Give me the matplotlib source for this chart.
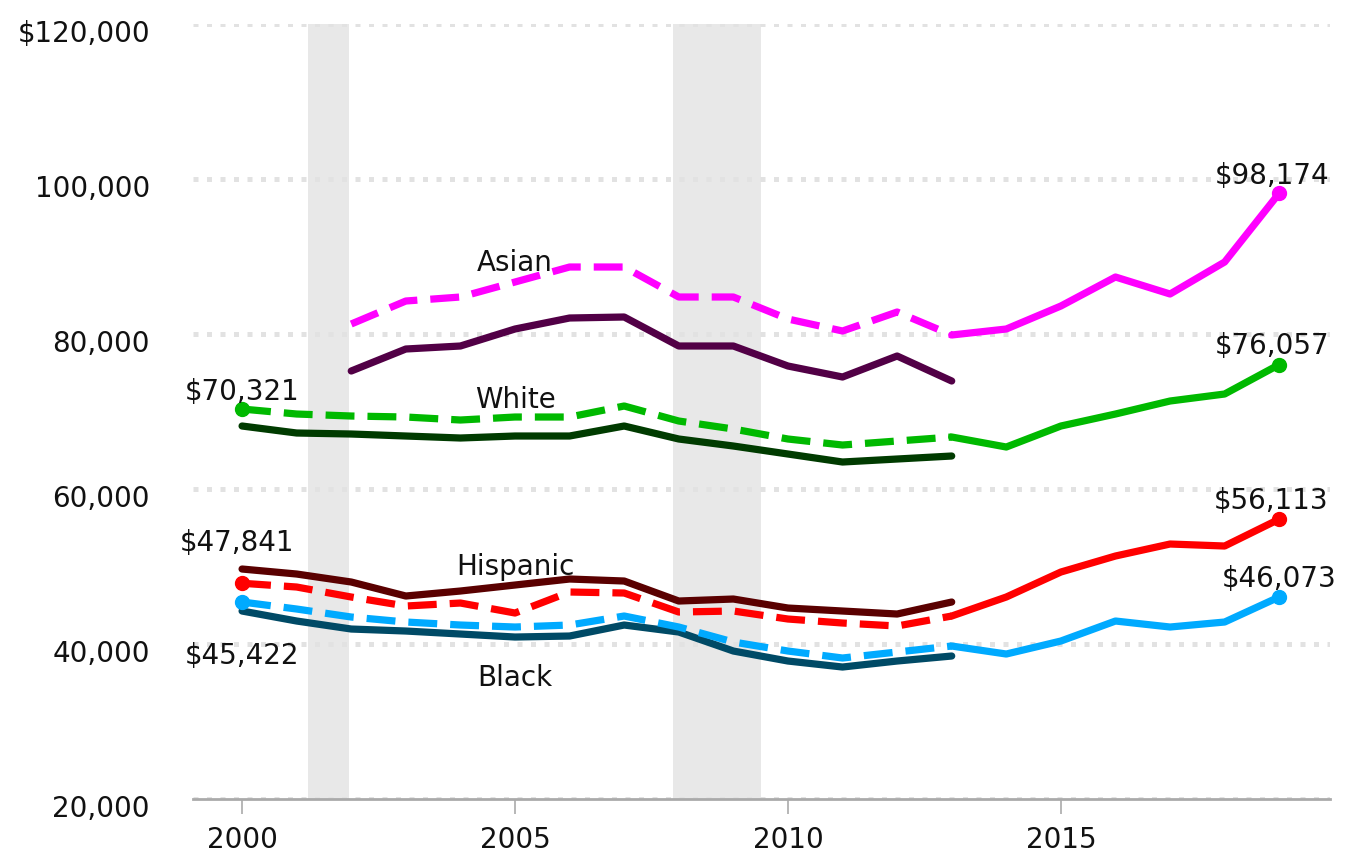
import matplotlib
matplotlib.use("Agg")
import matplotlib.pyplot as plt
from matplotlib.ticker import FuncFormatter
from matplotlib.transforms import ScaledTranslation

# old-method estimates (2000/2002 - 2013)
years_old = list(range(2000, 2014))
years_asian_old = list(range(2002, 2014))
# new-method estimates (2013 - 2019)
years_new = list(range(2013, 2020))

asian_dash = [81290, 84258, 84774, 86709, 88645, 88645, 84774, 84774, 81935, 80387, 82838, 79871]
asian_old = [75226, 78065, 78452, 80645, 82065, 82194, 78452, 78452, 75871, 74452, 77161, 73936]
asian_new = [79871, 80645, 83613, 87355, 85161, 89290, 98174]

white_dash = [70321, 69677, 69419, 69290, 68903, 69290, 69290, 70710, 68774, 67742, 66452, 65677, 66194, 66710]
white_old = [68129, 67226, 67097, 66839, 66581, 66839, 66839, 68129, 66452, 65548, 64516, 63484, 63871, 64258]
white_new = [66710, 65419, 68129, 69677, 71355, 72258, 76057]

hisp_dash = [47841, 47355, 46065, 44903, 45290, 44000, 46710, 46581, 44129, 44258, 43226, 42710, 42323, 43613]
hisp_old = [49677, 49032, 48000, 46194, 46839, 47613, 48387, 48129, 45548, 45806, 44645, 44258, 43871, 45419]
hisp_new = [43613, 46065, 49290, 51355, 52903, 52645, 56113]

black_dash = [45422, 44516, 43484, 42839, 42452, 42194, 42452, 43613, 42194, 40258, 39097, 38194, 38968, 39742]
black_old = [44258, 42968, 41935, 41677, 41290, 40903, 41032, 42452, 41548, 39097, 37806, 37032, 37806, 38452]
black_new = [39742, 38710, 40387, 42968, 42194, 42839, 46073]

recessions = [(2001.2, 2001.95), (2007.9, 2009.5)]

plt.rcParams["font.family"] = ["DejaVu Sans"]

fig = plt.figure(figsize=(13.53, 8.53), dpi=100)
ax = fig.add_axes([0.1426, 0.0621, 0.8404, 0.9086])

for start, end in recessions:
    ax.axvspan(start, end, color="#e8e8e8", lw=0, zorder=0)

for v in range(20000, 120001, 20000):
    ax.axhline(v, color="#e2e2e2", lw=3.6, ls=(0, (1, 1.7)), zorder=1)

lw = 5.2
dash = (0, (4, 1.8))
series = [
    (years_asian_old, asian_dash, asian_old, asian_new, "#ff00ff", "#520046"),
    (years_old, white_dash, white_old, white_new, "#00b900", "#003b00"),
    (years_old, hisp_dash, hisp_old, hisp_new, "#ff0000", "#5a0000"),
    (years_old, black_dash, black_old, black_new, "#00aaff", "#004a66"),
]
for yrs, dashed, old, new, bright, dark in series:
    ax.plot(yrs, old, color=dark, lw=lw, solid_capstyle="round", zorder=3)
    ax.plot(yrs, dashed, color=bright, lw=lw, ls=dash, zorder=4)
    ax.plot(years_new, new, color=bright, lw=lw, solid_capstyle="round", zorder=4)
    ax.plot(years_new[-1], new[-1], "o", color=bright, ms=10, zorder=5)
    if yrs[0] == 2000:
        ax.plot(yrs[0], dashed[0], "o", color=bright, ms=10, zorder=5)

fs = 20
def money(v):
    return "${:,}".format(v)

notes = [
    (2000, white_dash[0], (0, 13)),
    (2000, hisp_dash[0], (-4, 30)),
    (2000, black_dash[0], (0, -38)),
    (2019, asian_new[-1], (-5, 13)),
    (2019, white_new[-1], (-5, 14)),
    (2019, hisp_new[-1], (-6, 14)),
    (2019, black_new[-1], (0, 14)),
]
for x, v, off in notes:
    ax.annotate(money(v), (x, v), xytext=off, textcoords="offset points",
                ha="center", va="center", fontsize=fs, color="#111111", zorder=6)

ax.text(2005, 89290, "Asian", ha="center", va="center", fontsize=fs, color="#111111")
ax.text(2005, 71613, "White", ha="center", va="center", fontsize=fs, color="#111111")
ax.text(2005, 50065, "Hispanic", ha="center", va="center", fontsize=fs, color="#111111")
ax.text(2005, 35742, "Black", ha="center", va="center", fontsize=fs, color="#111111")

ax.set_xlim(1999.1, 2019.93)
ax.set_ylim(20000, 120000)
ax.set_yticks(range(20000, 120001, 20000))
ax.yaxis.set_major_formatter(FuncFormatter(lambda v, p: "${:,.0f}".format(v) if v == 120000 else "{:,.0f}".format(v)))
ax.set_xticks([2000, 2005, 2010, 2015])

for s in ["top", "right", "left"]:
    ax.spines[s].set_visible(False)
ax.spines["bottom"].set_color("#aaaaaa")
ax.spines["bottom"].set_linewidth(2)
ax.spines["bottom"].set_zorder(2)
ax.tick_params(axis="y", length=0, pad=31, labelsize=fs, labelcolor="#111111")
ax.tick_params(axis="x", length=11, width=1.2, color="#aaaaaa", pad=8, labelsize=fs, labelcolor="#111111")

# y labels sit slightly below their gridlines
shift = ScaledTranslation(0, -4 / 72, fig.dpi_scale_trans)
for lab in ax.get_yticklabels():
    lab.set_transform(lab.get_transform() + shift)

fig.savefig("out.png", dpi=100)
